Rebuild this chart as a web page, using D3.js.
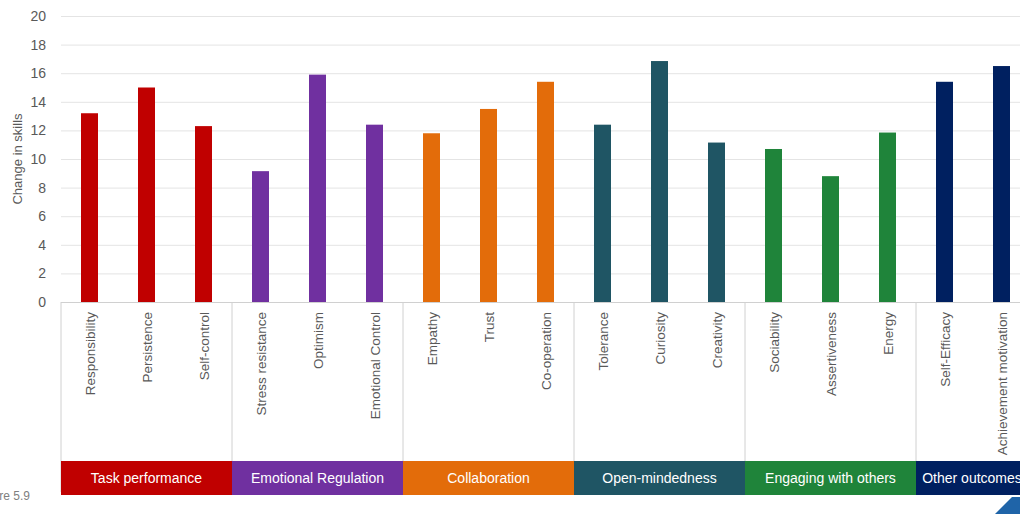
<!DOCTYPE html>
<html>
<head>
<meta charset="utf-8">
<script src="https://cdn.jsdelivr.net/npm/d3@7"></script>
<style>
  body { margin: 0; background: #fff; }
  svg { display: block; font-family: "Liberation Sans", Arial, sans-serif; }
</style>
</head>
<body>
<div id="chart-area"></div>
<script>
// DATA
var skills = ["Responsibility", "Persistence", "Self-control",
  "Stress resistance", "Optimism", "Emotional Control",
  "Empathy", "Trust", "Co-operation",
  "Tolerance", "Curiosity", "Creativity",
  "Sociability", "Assertiveness", "Energy",
  "Self-Efficacy", "Achievement motivation"];
var changes = [13.2, 15.0, 12.3,
  9.15, 15.9, 12.4,
  11.8, 13.5, 15.4,
  12.4, 16.85, 11.15,
  10.7, 8.8, 11.85,
  15.4, 16.5];
var groupNames = ["Task performance", "Emotional Regulation", "Collaboration",
  "Open-mindedness", "Engaging with others", "Other outcomes"];
var groupSizes = [3, 3, 3, 3, 3, 2];
var groupColors = ["#c00000", "#7030a0", "#e36c0a", "#1f5564", "#1f843a", "#002060"];
var yTicks = [0, 2, 4, 6, 8, 10, 12, 14, 16, 18, 20];

// SETUP
var W = 1020, H = 514;
var plotLeft = 61, plotRight = 1030, plotTop = 16, plotBottom = 302;

var svg = d3.select('#chart-area')
  .append('svg')
  .attr('width', W)
  .attr('height', H);

// SCALES
var x = d3.scaleBand()
  .domain(skills)
  .range([plotLeft, plotRight])
  .paddingInner(0)
  .paddingOuter(0);

var y = d3.scaleLinear()
  .domain([0, 20])
  .range([plotBottom, plotTop]);

// category -> group index
var skillGroup = [];
groupSizes.forEach(function (n, g) {
  for (var i = 0; i < n; i++) skillGroup.push(g);
});

// GRIDLINES
svg.append('g')
  .selectAll('line')
  .data(yTicks.slice(1))
  .enter()
  .append('line')
  .attr('x1', plotLeft)
  .attr('x2', W)
  .attr('y1', function (d) { return y(d) + 0.5; })
  .attr('y2', function (d) { return y(d) + 0.5; })
  .attr('stroke', '#e4e4e4')
  .attr('stroke-width', 1);

// Y AXIS
var yAxis = d3.axisLeft(y)
  .tickValues(yTicks)
  .tickSize(0)
  .tickPadding(15);
var yAxisGroup = svg.append('g')
  .attr('transform', 'translate(' + plotLeft + ',0)')
  .call(yAxis);
yAxisGroup.select('.domain').remove();
yAxisGroup.selectAll('text')
  .attr('font-size', '14px')
  .attr('fill', '#595959')
  .attr('font-family', '"Liberation Sans", Arial, sans-serif');

svg.append('text')
  .attr('transform', 'translate(22,' + ((plotTop + plotBottom) / 2) + ') rotate(-90)')
  .attr('text-anchor', 'middle')
  .attr('font-size', '13px')
  .attr('fill', '#595959')
  .text('Change in skills');

// BARS
var barW = 17;
svg.append('g')
  .selectAll('rect')
  .data(skills)
  .enter()
  .append('rect')
  .attr('x', function (d) { return x(d) + x.bandwidth() / 2 - barW / 2; })
  .attr('width', barW)
  .attr('y', function (d, i) { return y(changes[i]); })
  .attr('height', function (d, i) { return y(0) - y(changes[i]); })
  .attr('fill', function (d, i) { return groupColors[skillGroup[i]]; });

// BASELINE
svg.append('line')
  .attr('x1', plotLeft).attr('x2', W)
  .attr('y1', plotBottom + 0.5).attr('y2', plotBottom + 0.5)
  .attr('stroke', '#d0d0d0');

// GROUP BOUNDARIES
var bandTop = 461, bandBottom = 495;
var bounds = [0];
groupSizes.forEach(function (n, g) { bounds.push(bounds[g] + n); });
svg.append('g')
  .selectAll('line')
  .data(bounds)
  .enter()
  .append('line')
  .attr('x1', function (d) { return d < skills.length ? x(skills[d]) : plotRight; })
  .attr('x2', function (d) { return d < skills.length ? x(skills[d]) : plotRight; })
  .attr('y1', plotBottom)
  .attr('y2', function (d, i) { return i === 0 ? 492 : bandTop; })
  .attr('stroke', '#d0d0d0')
  .attr('stroke-width', 1);

// CATEGORY LABELS
svg.append('g')
  .selectAll('text')
  .data(skills)
  .enter()
  .append('text')
  .attr('transform', function (d) {
    return 'translate(' + (x(d) + x.bandwidth() / 2 + 5) + ',312) rotate(-90)';
  })
  .attr('text-anchor', 'end')
  .attr('font-size', '13.5px')
  .attr('fill', '#595959')
  .text(function (d) { return d; });

// GROUP BANDS
var groups = svg.append('g')
  .selectAll('g')
  .data(groupNames)
  .enter()
  .append('g');

groups.append('rect')
  .attr('x', function (d, i) { return x(skills[bounds[i]]); })
  .attr('width', function (d, i) { return groupSizes[i] * x.bandwidth(); })
  .attr('y', bandTop)
  .attr('height', bandBottom - bandTop)
  .attr('fill', function (d, i) { return groupColors[i]; });

groups.append('text')
  .attr('x', function (d, i) {
    var cx = x(skills[bounds[i]]) + groupSizes[i] * x.bandwidth() / 2;
    return Math.min(cx, W - 48);
  })
  .attr('y', (bandTop + bandBottom) / 2 + 5)
  .attr('text-anchor', 'middle')
  .attr('font-size', '14px')
  .attr('fill', '#fff')
  .text(function (d) { return d; });

// FOOTER
svg.append('text')
  .attr('x', 30)
  .attr('y', 500)
  .attr('text-anchor', 'end')
  .attr('font-size', '12px')
  .attr('fill', '#7f7f7f')
  .text('Figure 5.9');

svg.append('polygon')
  .attr('points', '995,514 1012,497 1020,497 1020,514')
  .attr('fill', '#1f64a8');
</script>
</body>
</html>
